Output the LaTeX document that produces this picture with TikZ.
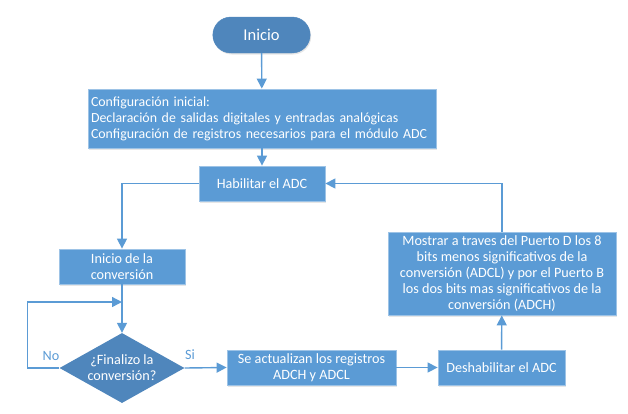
\documentclass[tikz,border=0pt]{standalone}
\usepackage{fontspec}
\setmainfont{Carlito}
\usepackage{tikz}
\usetikzlibrary{shapes.geometric, shapes.misc, arrows.meta, positioning, shadows}
\definecolor{boxblue}{HTML}{5B9BD5}
\definecolor{darkblue}{HTML}{4F86BC}
\definecolor{edgeblue}{HTML}{9DC3E6}
\tikzstyle{proc} = [rectangle, draw=edgeblue, line width=0.8pt, fill=boxblue, text=white, align=center, inner sep=3pt, font=\fontsize{14.2}{16}\selectfont, drop shadow={shadow xshift=1pt, shadow yshift=-1.5pt, opacity=0.2}]
\tikzstyle{term} = [rounded rectangle, draw=darkblue, fill=darkblue, text=white, minimum height=36pt, font=\fontsize{16.5}{18}\selectfont, drop shadow={shadow xshift=1pt, shadow yshift=-1.5pt, opacity=0.2}]
\tikzstyle{decision} = [diamond, aspect=1.8, fill=darkblue, text=white, align=center, inner sep=0pt, minimum width=125pt, minimum height=70pt, font=\fontsize{14.2}{16}\selectfont]
\tikzstyle{arrow} = [draw=boxblue, line width=1.4pt, -{Triangle[length=10pt, width=10pt]}]
\begin{document}
\begin{tikzpicture}[x=1pt, y=-1pt]
\useasboundingbox (0,0) rectangle (628,413);

\node[term, minimum width=104pt] (start) at (261.5,35) {Inicio};
\node[proc, align=left, minimum height=59pt, text width=342pt, font=\fontsize{13.9}{16}\selectfont] (config) at (262,118.5) {Configuración inicial:\\Declaración de salidas digitales y entradas analógicas\\Configuración de registros necesarios para el módulo ADC};
\node[proc, minimum width=126pt, minimum height=35pt] (enable) at (262,183.5) {Habilitar el ADC};
\node[proc, minimum width=126pt, minimum height=35pt] (conv) at (122,266.5) {Inicio de la\\conversión};
\node[decision] (done) at (122,368) {¿Finalizo la\\conversión?};
\node[proc, minimum width=169pt, minimum height=35pt] (update) at (311.5,367.5) {Se actualizan los registros\\ADCH y ADCL};
\node[proc, minimum width=127pt, minimum height=35pt] (disable) at (501.5,367.5) {Deshabilitar el ADC};
\node[proc, minimum width=228pt, minimum height=83pt] (show) at (502,273.5) {Mostrar a traves del Puerto D los 8\\bits menos significativos de la\\conversión (ADCL) y por el Puerto B\\los dos bits mas significativos de la\\conversión (ADCH)};

\node[text=boxblue, font=\fontsize{14.2}{16}\selectfont] (no) at (51,356) {No};
\node[text=boxblue, font=\fontsize{14.2}{16}\selectfont] (si) at (190,355) {Si};
\coordinate (loop) at (122,302);

\draw[arrow] (start) -- (config);
\draw[arrow] (config) -- (enable);
\draw[arrow] (enable.west) -| (conv.north);
\draw[arrow] (conv) -- (done);
\draw[arrow] (done.west) -- ++(-32,0) |- (loop);
\draw[arrow] (done.east) -- (update.west);
\draw[arrow] (update) -- (disable);
\draw[arrow] (disable) -- (show);
\draw[arrow] (show.north) |- (enable.east);

\end{tikzpicture}
\end{document}
